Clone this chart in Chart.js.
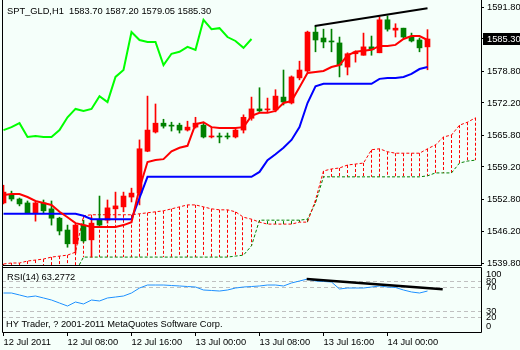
<!DOCTYPE html>
<html>
<head>
<meta charset="utf-8">
<script src="https://cdn.jsdelivr.net/npm/chart.js@4.4.1/dist/chart.umd.min.js"></script>
<style>
  html, body { margin: 0; padding: 0; background: #F5FFFA; }
  #wrap { position: relative; width: 520px; height: 350px; overflow: hidden; }
  canvas { position: absolute; left: 0; }
  #main { top: 0; }
  #rsi { top: 266px; }
</style>
</head>
<body>
<div id="wrap">
  <canvas id="main" width="520" height="266"></canvas>
  <canvas id="rsi" width="520" height="84"></canvas>
</div>
<script>
// hourly bars, bar 0 = 12 Jul 2011 00:00
const symbol = 'SPT_GLD,H1';
const opens = [1552.0, 1553.6, 1552.8, 1552.0, 1550.0, 1552.0, 1550.8, 1548.9, 1546.5, 1543.7,
  1547.5, 1544.5, 1548.5, 1548.5, 1550.8, 1551.2, 1553.2, 1554.0, 1562.5, 1566.4,
  1568.2, 1567.8, 1567.8, 1566.8, 1567.4, 1567.8, 1565.4, 1565.6, 1565.6, 1565.4,
  1566.8, 1569.2, 1571.1, 1570.9, 1570.9, 1573.5, 1572.3, 1577.4, 1578.8, 1586.7,
  1585.5, 1584.9, 1584.5, 1579.6, 1582.3, 1582.0, 1583.7, 1582.5, 1589.2, 1587.1,
  1587.5, 1585.7, 1585.1, 1583.70];
const highs = [1555.6, 1554.4, 1553.0, 1552.4, 1552.2, 1552.6, 1552.4, 1549.1, 1547.5, 1547.7,
  1548.5, 1549.1, 1553.4, 1552.6, 1554.2, 1554.2, 1555.0, 1564.8, 1573.7, 1572.1,
  1569.0, 1568.4, 1568.2, 1568.6, 1569.4, 1568.4, 1567.4, 1566.2, 1566.2, 1567.2,
  1569.9, 1573.5, 1575.4, 1573.3, 1575.0, 1579.0, 1577.8, 1580.8, 1586.9, 1587.9,
  1587.3, 1587.3, 1585.7, 1582.5, 1582.9, 1586.5, 1585.9, 1589.8, 1590.0, 1588.4,
  1587.5, 1586.5, 1585.5, 1587.20];
const lows = [1551.8, 1552.4, 1551.4, 1550.0, 1548.3, 1550.0, 1547.5, 1545.5, 1543.0, 1541.8,
  1544.0, 1541.0, 1547.1, 1547.9, 1548.9, 1550.2, 1552.2, 1551.6, 1562.4, 1566.2,
  1567.2, 1566.6, 1566.2, 1566.6, 1567.2, 1565.2, 1565.2, 1564.2, 1565.0, 1565.2,
  1566.2, 1568.8, 1570.5, 1570.5, 1570.5, 1571.9, 1572.1, 1577.0, 1578.6, 1582.7,
  1583.5, 1582.7, 1577.6, 1578.0, 1580.6, 1582.0, 1582.0, 1582.5, 1586.9, 1585.7,
  1585.5, 1584.7, 1582.7, 1579.05];
const closes = [1554.2, 1552.8, 1551.8, 1550.0, 1552.0, 1550.4, 1548.9, 1546.3, 1543.7, 1547.5,
  1544.3, 1547.9, 1547.5, 1551.0, 1551.4, 1553.4, 1554.0, 1563.0, 1566.8, 1568.2,
  1567.6, 1567.6, 1566.8, 1567.4, 1568.2, 1565.4, 1565.6, 1565.4, 1565.4, 1566.8,
  1569.4, 1571.1, 1570.7, 1571.1, 1573.7, 1572.5, 1577.6, 1579.0, 1586.7, 1585.1,
  1584.7, 1584.7, 1580.0, 1582.3, 1582.7, 1583.7, 1583.1, 1589.2, 1587.3, 1587.5,
  1585.7, 1584.9, 1583.5, 1585.30];

// ichimoku lines
const tenkan = [1553.6, 1553.8, 1553.8, 1553.2, 1552.4, 1552.0, 1551.6, 1550.2, 1549.1, 1547.9,
  1547.5, 1547.1, 1547.1, 1547.1, 1547.1, 1547.5, 1548.1, 1555.0, 1560.3, 1560.7,
  1560.9, 1562.5, 1563.2, 1563.6, 1568.0, 1568.4, 1567.4, 1567.2, 1567.2, 1567.2,
  1567.4, 1569.7, 1570.3, 1570.3, 1570.7, 1572.3, 1572.7, 1575.5, 1578.4, 1578.6,
  1578.8, 1579.6, 1580.0, 1582.0, 1582.7, 1582.9, 1583.1, 1583.9, 1583.9, 1584.1,
  1585.3, 1585.9, 1585.9, 1585.1];
const kijun = [1549.8, 1549.8, 1549.8, 1549.8, 1549.8, 1549.8, 1549.8, 1549.8, 1549.8, 1549.8,
  1549.4, 1548.7, 1548.7, 1548.7, 1548.7, 1548.7, 1548.7, 1553.0, 1557.3, 1557.3,
  1557.3, 1557.3, 1557.3, 1557.3, 1557.3, 1557.3, 1557.3, 1557.3, 1557.3, 1557.3,
  1557.3, 1557.3, 1558.3, 1560.7, 1561.9, 1563.2, 1564.8, 1567.4, 1572.3, 1575.7,
  1576.2, 1576.2, 1576.2, 1576.2, 1576.2, 1576.2, 1576.2, 1577.2, 1577.4, 1577.4,
  1577.6, 1578.2, 1579.2, 1579.6];
const chikouShift = 22;
// cloud runs past the last bar
const spanA = [1539.6, 1539.8, 1539.8, 1540.2, 1540.4, 1540.6, 1541.0, 1541.2, 1541.4, 1542.0,
  1549.4, 1549.6, 1549.6, 1549.6, 1549.6, 1549.6, 1549.6, 1549.8, 1550.0, 1550.2,
  1550.4, 1550.8, 1551.2, 1551.6, 1551.6, 1551.2, 1550.8, 1550.6, 1550.6, 1550.2,
  1549.1, 1548.7, 1548.1, 1547.7, 1547.7, 1547.7, 1547.7, 1548.1, 1548.1, 1552.6,
  1558.5, 1558.9, 1559.1, 1559.7, 1559.9, 1560.1, 1562.8, 1563.0, 1562.4, 1562.1,
  1562.1, 1562.1, 1562.1, 1563.0, 1563.8, 1565.4, 1565.8, 1567.8, 1568.4, 1569.3];
const spanB = [1538.0, 1538.0, 1538.0, 1538.0, 1538.0, 1538.0, 1538.0, 1538.0, 1538.0, 1538.0,
  1541.0, 1541.0, 1541.0, 1541.0, 1541.0, 1541.0, 1541.0, 1541.0, 1541.0, 1541.0,
  1541.0, 1541.0, 1541.0, 1541.0, 1541.0, 1541.0, 1541.0, 1541.0, 1541.0, 1541.2,
  1541.4, 1543.3, 1548.5, 1548.5, 1548.5, 1548.5, 1548.5, 1548.5, 1548.7, 1552.0,
  1557.3, 1557.3, 1557.3, 1557.3, 1557.3, 1557.3, 1557.3, 1557.3, 1557.3, 1557.3,
  1557.3, 1557.3, 1557.3, 1557.5, 1558.1, 1558.1, 1558.1, 1560.1, 1560.5, 1560.7];

const rsi = [60.0, 60.0, 56.7, 53.3, 55.0, 51.7, 48.3, 43.3, 38.3, 45.0,
  41.7, 48.3, 46.7, 51.7, 53.3, 55.0, 60.0, 68.3, 73.3, 73.3,
  73.3, 72.5, 71.7, 70.8, 70.0, 65.0, 64.2, 63.3, 65.0, 68.3,
  70.0, 70.8, 71.7, 73.3, 73.3, 71.7, 76.7, 80.0, 83.3, 80.0,
  79.2, 78.3, 66.7, 68.3, 68.3, 68.3, 70.0, 71.7, 70.0, 69.2,
  65.0, 61.7, 60.0, 63.2772];
const rsiLevels = [80, 70, 30, 20];
const rsiAxisLabels = [100, 80, 70, 30, 20, 0];

// hand drawn trendlines [bar, value]
const priceTrend = [[38.9, 1587.94], [53, 1591.55]];
const rsiTrend = [[37.9, 83.3], [54.9, 66.2]];

const priceTicks = [1539.8, 1546.3, 1552.8, 1559.3, 1565.8, 1572.3, 1578.8, 1585.3, 1591.8];
const priceTickLabels = ['1539.80', '1546.20', '1552.80', '1559.20', '1565.80', '1572.20', '1578.80', '1585.30', '1591.80'];
const timeTicks = [0, 8, 16, 24, 32, 40, 48];
const timeLabels = ['12 Jul 2011', '12 Jul 08:00', '12 Jul 16:00', '13 Jul 00:00', '13 Jul 08:00', '13 Jul 16:00', '14 Jul 00:00'];

const FONT = '"Liberation Sans", Arial, sans-serif';
const FSIZE = 9.3;
const X_MIN = -0.1875, X_MAX = 59.6875;
const UP = '#FF0000', DOWN = '#008000';

const last = closes.length - 1;
const pts = arr => arr.map((v, i) => ({x: i, y: v}));

// keep chart areas fixed, labels may overhang
function fixBox(s, w, h) {
  if (w) s.width = w;
  if (h) s.height = h;
  s.paddingTop = 0;
  s.paddingBottom = 0;
  s.paddingLeft = 0;
  s.paddingRight = 0;
}

// cloud hatching, frame, title, current price box
const mainDecor = {
  id: 'mainDecor',
  beforeDatasetsDraw(chart) {
    const {ctx, chartArea: a, scales: {x, y}} = chart;
    ctx.save();
    ctx.beginPath();
    ctx.rect(a.left, a.top, a.right - a.left, a.bottom - a.top);
    ctx.clip();
    ctx.lineWidth = 1;
    ctx.setLineDash([3, 2]);
    spanA.forEach((va, i) => {
      const px = Math.round(x.getPixelForValue(i)) - 0.5;
      ctx.strokeStyle = va >= spanB[i] ? UP : DOWN;
      ctx.beginPath();
      ctx.moveTo(px, y.getPixelForValue(va));
      ctx.lineTo(px, y.getPixelForValue(spanB[i]));
      ctx.stroke();
    });
    ctx.restore();
  },
  afterDraw(chart) {
    const {ctx, chartArea: a, scales: {y}} = chart;
    ctx.save();
    ctx.strokeStyle = '#000';
    ctx.lineWidth = 1;
    ctx.beginPath();
    ctx.moveTo(a.left + 0.5, 0);
    ctx.lineTo(a.left + 0.5, a.bottom + 0.5);
    ctx.lineTo(a.right + 0.5, a.bottom + 0.5);
    ctx.moveTo(a.right + 0.5, 0);
    ctx.lineTo(a.right + 0.5, a.bottom + 1);
    ctx.stroke();

    ctx.font = FSIZE + 'px ' + FONT;
    ctx.fillStyle = '#000';
    ctx.textBaseline = 'middle';
    const ohlc = [opens[last], highs[last], lows[last], closes[last]].map(v => v.toFixed(2)).join(' ');
    ctx.fillText(symbol + '  ' + ohlc, 7, 11);

    const py = Math.round(y.getPixelForValue(closes[last]));
    ctx.fillRect(a.right + 2, py - 6, 520 - a.right - 2, 12);
    ctx.fillStyle = '#fff';
    ctx.fillText(closes[last].toFixed(2), a.right + 6, py);
    ctx.restore();
  }
};

new Chart(document.getElementById('main'), {
  type: 'line',
  data: {
    datasets: [
      {data: priceTrend.map(p => ({x: p[0], y: p[1]})), borderColor: '#000', borderWidth: 2, order: 0},
      {data: pts(tenkan), borderColor: '#FF0000', borderWidth: 2, order: 1},
      {data: pts(kijun), borderColor: '#0000FF', borderWidth: 2, order: 1},
      {data: closes.slice(chikouShift).map((c, i) => ({x: i, y: c})), borderColor: '#00FF00', borderWidth: 2, order: 1},
      {
        type: 'bar', order: 2, grouped: false, barThickness: 5, minBarLength: 1,
        data: opens.map((o, i) => ({x: i, y: [o, closes[i]]})),
        backgroundColor: opens.map((o, i) => closes[i] > o ? UP : DOWN),
        borderWidth: 0
      },
      {
        type: 'bar', order: 3, grouped: false, barThickness: 1,
        data: highs.map((h, i) => ({x: i, y: [lows[i], h]})),
        backgroundColor: opens.map((o, i) => closes[i] > o ? UP : DOWN),
        borderWidth: 0
      },
      {data: pts(spanA), borderColor: UP, borderWidth: 1, borderDash: [3, 2], order: 5},
      {data: pts(spanB), borderColor: DOWN, borderWidth: 1, borderDash: [3, 2], order: 5}
    ]
  },
  options: {
    responsive: false,
    animation: false,
    events: [],
    devicePixelRatio: 1,
    layout: {padding: {left: 2, top: 2, right: 0, bottom: 1}},
    elements: {
      point: {radius: 0},
      line: {tension: 0, fill: false}
    },
    plugins: {legend: {display: false}, tooltip: {enabled: false}},
    scales: {
      x: {type: 'linear', min: X_MIN, max: X_MAX, offset: false, display: false},
      y: {
        type: 'linear', position: 'right',
        min: 1591.8 - 258 * 6.5 / 32, max: 1591.8 + 5 * 6.5 / 32,
        afterBuildTicks: s => { s.ticks = priceTicks.map(v => ({value: v})); },
        afterFit: s => fixBox(s, 39, 0),
        ticks: {
          autoSkip: false,
          callback: (v, i) => priceTickLabels[i],
          color: '#000', padding: 3,
          font: {family: FONT, size: FSIZE}
        },
        grid: {drawOnChartArea: false, tickLength: 3, color: '#000'},
        border: {display: false}
      }
    }
  },
  plugins: [mainDecor]
});

// rsi levels, frame, captions, axis labels
const rsiDecor = {
  id: 'rsiDecor',
  beforeDatasetsDraw(chart) {
    const {ctx, chartArea: a, scales: {y}} = chart;
    ctx.save();
    ctx.strokeStyle = '#C0C0C0';
    ctx.lineWidth = 1;
    ctx.setLineDash([4, 3]);
    rsiLevels.forEach(l => {
      const py = Math.round(y.getPixelForValue(l)) + 0.5;
      ctx.beginPath();
      ctx.moveTo(a.left, py);
      ctx.lineTo(a.right, py);
      ctx.stroke();
    });
    ctx.restore();
  },
  afterDraw(chart) {
    const {ctx, chartArea: a, scales: {y}} = chart;
    ctx.save();
    ctx.strokeStyle = '#000';
    ctx.lineWidth = 1;
    ctx.beginPath();
    ctx.moveTo(a.left + 0.5, 0);
    ctx.lineTo(a.left + 0.5, a.bottom + 0.5);
    ctx.lineTo(a.right + 0.5, a.bottom + 0.5);
    ctx.lineTo(a.right + 0.5, a.top - 0.5);
    ctx.lineTo(a.left + 0.5, a.top - 0.5);
    ctx.stroke();

    ctx.font = FSIZE + 'px ' + FONT;
    ctx.fillStyle = '#000';
    ctx.textBaseline = 'middle';
    ctx.fillText('RSI(14) ' + rsi[last].toFixed(4), 7, 11);
    ctx.fillText('HY Trader, ? 2001-2011 MetaQuotes Software Corp.', 6, 58);

    rsiAxisLabels.forEach(l => {
      let py = y.getPixelForValue(l);
      py = Math.min(Math.max(py, a.top + 6), a.bottom - 6);
      ctx.fillText(String(l), a.right + 5, py);
    });
    ctx.restore();
  }
};

new Chart(document.getElementById('rsi'), {
  type: 'line',
  data: {
    datasets: [
      {data: rsiTrend.map(p => ({x: p[0], y: p[1]})), borderColor: '#000', borderWidth: 2.5, order: 0},
      {data: pts(rsi), borderColor: '#1E90FF', borderWidth: 1, order: 1}
    ]
  },
  options: {
    responsive: false,
    animation: false,
    events: [],
    devicePixelRatio: 1,
    layout: {padding: {left: 2, top: 2, right: 0, bottom: 0}},
    elements: {
      point: {radius: 0},
      line: {tension: 0, fill: false}
    },
    plugins: {legend: {display: false}, tooltip: {enabled: false}},
    scales: {
      x: {
        type: 'linear', min: X_MIN, max: X_MAX, offset: false, position: 'bottom',
        afterBuildTicks: s => { s.ticks = timeTicks.map(v => ({value: v})); },
        afterFit: s => fixBox(s, 0, 18),
        ticks: {
          autoSkip: false, maxRotation: 0, align: 'start', padding: 1,
          callback: (v, i) => timeLabels[i],
          color: '#000',
          font: {family: FONT, size: FSIZE}
        },
        grid: {drawOnChartArea: false, tickLength: 4, color: '#000'},
        border: {display: false}
      },
      y: {
        type: 'linear', position: 'right', min: -5, max: 100 + 1 / 0.6,
        afterFit: s => fixBox(s, 39, 0),
        ticks: {display: false},
        grid: {display: false},
        border: {display: false}
      }
    }
  },
  plugins: [rsiDecor]
});
</script>
</body>
</html>
